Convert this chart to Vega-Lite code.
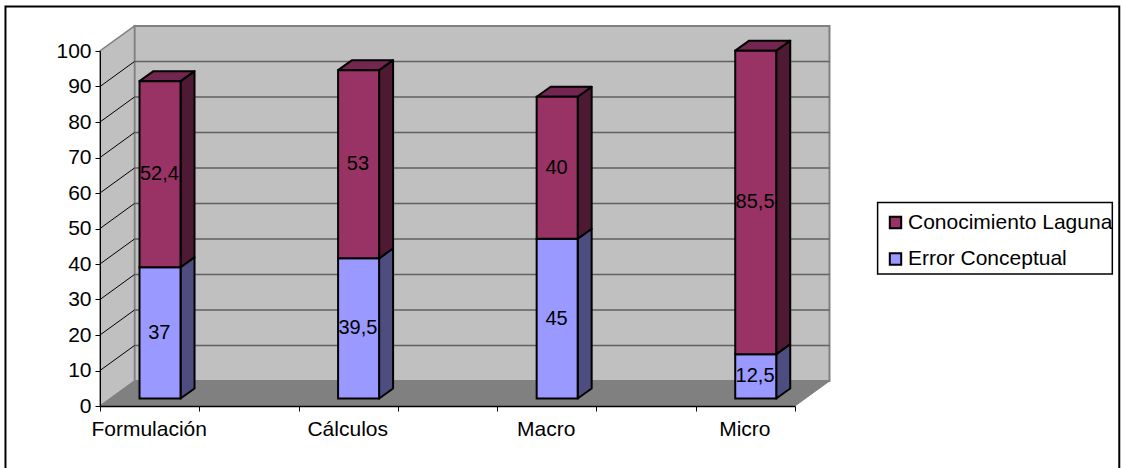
{
  "$schema": "https://vega.github.io/schema/vega-lite/v6.json",
  "width": 695,
  "height": 355,
  "autosize": {"type": "none"},
  "padding": {"left": 100, "top": 51, "right": 326, "bottom": 62},
  "background": "white",
  "config": {
    "view": {"stroke": null},
    "font": "Liberation Sans",
    "legend": {"labelFont": "Liberation Sans"},
    "axis": {"labelFont": "Liberation Sans"}
  },
  "datasets": {
    "valores": [
      {"categoria": "Formulación", "serie": "Error Conceptual", "valor": 37},
      {"categoria": "Formulación", "serie": "Conocimiento Laguna", "valor": 52.4},
      {"categoria": "Cálculos", "serie": "Error Conceptual", "valor": 39.5},
      {"categoria": "Cálculos", "serie": "Conocimiento Laguna", "valor": 53},
      {"categoria": "Macro", "serie": "Error Conceptual", "valor": 45},
      {"categoria": "Macro", "serie": "Conocimiento Laguna", "valor": 40},
      {"categoria": "Micro", "serie": "Error Conceptual", "valor": 12.5},
      {"categoria": "Micro", "serie": "Conocimiento Laguna", "valor": 85.5}
    ],
    "niveles": [
      {"nivel": 10}, {"nivel": 20}, {"nivel": 30}, {"nivel": 40}, {"nivel": 50},
      {"nivel": 60}, {"nivel": 70}, {"nivel": 80}, {"nivel": 90}
    ]
  },
  "encoding": {
    "x": {
      "field": "x",
      "type": "quantitative",
      "title": null,
      "scale": {"domain": [0, 3.5], "nice": false, "zero": false},
      "axis": {
        "values": [0, 0.245, 0.5, 1, 1.245, 1.5, 2, 2.245, 2.5, 3, 3.245, 3.5],
        "labelExpr": "abs(datum.value-floor(datum.value)-0.245)<0.01 ? ['Formulación','Cálculos','Macro','Micro'][floor(datum.value)] : ''",
        "tickOpacity": {"condition": {"test": "abs(datum.value-floor(datum.value)-0.245)<0.01", "value": 0}, "value": 1},
        "grid": false,
        "labelOverlap": false,
        "labelFlush": false,
        "labelFontSize": 21,
        "labelColor": "#000000",
        "labelPadding": 7,
        "tickSize": 5,
        "tickColor": "#000000",
        "domainColor": "#000000",
        "domainWidth": 1.5,
        "tickWidth": 1,
        "zindex": 1
      }
    },
    "y": {
      "field": "y",
      "type": "quantitative",
      "title": null,
      "stack": null,
      "scale": {"domain": [0, 100], "nice": false, "zero": false},
      "axis": {
        "values": [0, 10, 20, 30, 40, 50, 60, 70, 80, 90, 100],
        "grid": false,
        "labelFontSize": 21,
        "labelColor": "#000000",
        "labelPadding": 4,
        "tickSize": 5,
        "tickColor": "#000000",
        "domainColor": "#000000",
        "domainWidth": 1,
        "tickWidth": 1,
        "zindex": 1
      }
    }
  },
  "layer": [
    {
      "description": "Marco exterior del gráfico, abierto por abajo",
      "data": {"values": [{"pieza": "marco"}]},
      "transform": [
        {"calculate": "-0.476", "as": "x"},
        {"calculate": "5.133", "as": "xFin"},
        {"calculate": "-21", "as": "y"},
        {"calculate": "112.55", "as": "yFin"}
      ],
      "mark": {"type": "rect", "fill": null, "stroke": "#000000", "strokeWidth": 2},
      "encoding": {
        "x2": {"field": "xFin"},
        "y2": {"field": "yFin"}
      }
    },
    {
      "description": "Pared del fondo",
      "data": {"values": [{"pieza": "fondo"}]},
      "transform": [
        {"calculate": "0.1737", "as": "x"},
        {"calculate": "3.5+0.1737", "as": "xFin"},
        {"calculate": "7.04", "as": "y"},
        {"calculate": "107.04", "as": "yFin"}
      ],
      "mark": {"type": "rect", "fill": "#c0c0c0", "stroke": "#808080", "strokeWidth": 2},
      "encoding": {
        "x2": {"field": "xFin"},
        "y2": {"field": "yFin"}
      }
    },
    {
      "description": "Pared lateral izquierda",
      "data": {"values": [{"p": 0}, {"p": 1}]},
      "transform": [
        {"calculate": "datum.p*0.1737", "as": "x"},
        {"calculate": "datum.p*7.04", "as": "y"},
        {"calculate": "100+datum.p*7.04", "as": "yFin"}
      ],
      "mark": {"type": "area", "orient": "vertical", "fill": "#c0c0c0", "stroke": "#808080", "strokeWidth": 1.5},
      "encoding": {"y2": {"field": "yFin"}}
    },
    {
      "description": "Suelo",
      "data": {"values": [{"p": 0}, {"p": 1}, {"p": 2}, {"p": 3}]},
      "transform": [
        {"calculate": "[0,0.1737,3.5,3.6737][datum.p]", "as": "x"},
        {"calculate": "[0,0,0,7.04][datum.p]", "as": "y"},
        {"calculate": "[0,7.04,7.04,7.04][datum.p]", "as": "yFin"}
      ],
      "mark": {"type": "area", "orient": "vertical", "fill": "#808080", "stroke": "#808080", "strokeWidth": 1},
      "encoding": {"y2": {"field": "yFin"}}
    },
    {
      "description": "Rejilla horizontal en la pared del fondo",
      "data": {"name": "niveles"},
      "transform": [
        {"calculate": "0.1737", "as": "x"},
        {"calculate": "3.6737", "as": "xFin"},
        {"calculate": "datum.nivel+7.04", "as": "y"},
        {"calculate": "datum.nivel+7.04", "as": "yFin"}
      ],
      "mark": {"type": "rule", "stroke": "#606060", "strokeWidth": 1.5},
      "encoding": {
        "x2": {"field": "xFin"},
        "y2": {"field": "yFin"}
      }
    },
    {
      "description": "Rejilla diagonal en la pared lateral",
      "data": {"name": "niveles"},
      "transform": [
        {"calculate": "0", "as": "x"},
        {"calculate": "0.1737", "as": "xFin"},
        {"calculate": "datum.nivel", "as": "y"},
        {"calculate": "datum.nivel+7.04", "as": "yFin"}
      ],
      "mark": {"type": "rule", "stroke": "#000000", "strokeWidth": 1},
      "encoding": {
        "x2": {"field": "xFin"},
        "y2": {"field": "yFin"}
      }
    },
    {
      "description": "Columnas apiladas en perspectiva",
      "data": {"name": "valores"},
      "transform": [
        {"calculate": "datum.serie==='Error Conceptual' ? 0 : 1", "as": "ordenSerie"},
        {"stack": "valor", "groupby": ["categoria"], "sort": [{"field": "ordenSerie", "order": "ascending"}], "as": ["desde", "hasta"]},
        {"calculate": "indexof(['Formulación','Cálculos','Macro','Micro'],datum.categoria)+0.199", "as": "x0"},
        {"calculate": "datum.desde+2.1", "as": "base"},
        {"calculate": "datum.hasta+2.1", "as": "tope"},
        {"calculate": "datum.categoria+datum.serie", "as": "clave"}
      ],
      "layer": [
        {
          "description": "Caras laterales",
          "transform": [
            {"calculate": "[0,1]", "as": "p"},
            {"flatten": ["p"]},
            {"calculate": "datum.x0+0.2065+datum.p*0.0705", "as": "x"},
            {"calculate": "datum.base+datum.p*2.82", "as": "y"},
            {"calculate": "datum.tope+datum.p*2.82", "as": "yFin"}
          ],
          "mark": {"type": "area", "orient": "vertical", "stroke": "#000000", "strokeWidth": 2, "strokeJoin": "round"},
          "encoding": {
            "y2": {"field": "yFin"},
            "detail": {"field": "clave"},
            "fill": {
              "condition": {"test": "datum.serie==='Error Conceptual'", "value": "#4d4d80"},
              "value": "#4d1933"
            }
          }
        },
        {
          "description": "Cara superior",
          "transform": [
            {"filter": "datum.serie==='Conocimiento Laguna'"},
            {"calculate": "[0,1,2,3]", "as": "p"},
            {"flatten": ["p"]},
            {"calculate": "datum.x0+[0,0.0705,0.2065,0.277][datum.p]", "as": "x"},
            {"calculate": "datum.tope+[0,0,0,2.82][datum.p]", "as": "y"},
            {"calculate": "datum.tope+[0,2.82,2.82,2.82][datum.p]", "as": "yFin"}
          ],
          "mark": {"type": "area", "orient": "vertical", "fill": "#732650", "stroke": "#000000", "strokeWidth": 2, "strokeJoin": "round"},
          "encoding": {
            "y2": {"field": "yFin"},
            "detail": {"field": "clave"}
          }
        },
        {
          "description": "Cara frontal con la leyenda de series",
          "transform": [
            {"calculate": "datum.x0", "as": "x"},
            {"calculate": "datum.x0+0.2065", "as": "xFin"},
            {"calculate": "datum.base", "as": "y"},
            {"calculate": "datum.tope", "as": "yFin"}
          ],
          "mark": {"type": "rect", "stroke": "#000000", "strokeWidth": 2},
          "encoding": {
            "x2": {"field": "xFin"},
            "y2": {"field": "yFin"},
            "color": {
              "field": "serie",
              "type": "nominal",
              "scale": {"domain": ["Conocimiento Laguna", "Error Conceptual"], "range": ["#993366", "#9999ff"]},
              "legend": {
                "title": null,
                "orient": "none",
                "legendX": 785,
                "legendY": 161,
                "padding": 0,
                "symbolType": "square",
                "symbolSize": 130,
                "symbolStrokeColor": "#000000",
                "symbolStrokeWidth": 2,
                "labelFontSize": 21,
                "labelColor": "#000000",
                "labelOffset": 2,
                "labelLimit": 300,
                "rowPadding": 14.5
              }
            }
          }
        },
        {
          "description": "Valores de cada segmento",
          "transform": [
            {"calculate": "datum.x0+0.1", "as": "xTexto"},
            {"calculate": "(datum.base+datum.tope)/2", "as": "yTexto"},
            {"calculate": "replace(toString(datum.valor),'.',',')", "as": "etiqueta"}
          ],
          "mark": {"type": "text", "fontSize": 20, "color": "#000000", "baseline": "middle", "align": "center"},
          "encoding": {
            "x": {"field": "xTexto", "type": "quantitative"},
            "y": {"field": "yTexto", "type": "quantitative"},
            "text": {"field": "etiqueta", "type": "nominal"}
          }
        }
      ]
    },
    {
      "description": "Recuadro de la leyenda",
      "data": {"values": [{"pieza": "recuadro"}]},
      "transform": [
        {"calculate": "3.916", "as": "x"},
        {"calculate": "5.098", "as": "xFin"},
        {"calculate": "37.2", "as": "y"},
        {"calculate": "57.3", "as": "yFin"}
      ],
      "mark": {"type": "rect", "fill": null, "stroke": "#000000", "strokeWidth": 1.5},
      "encoding": {
        "x2": {"field": "xFin"},
        "y2": {"field": "yFin"}
      }
    }
  ]
}
